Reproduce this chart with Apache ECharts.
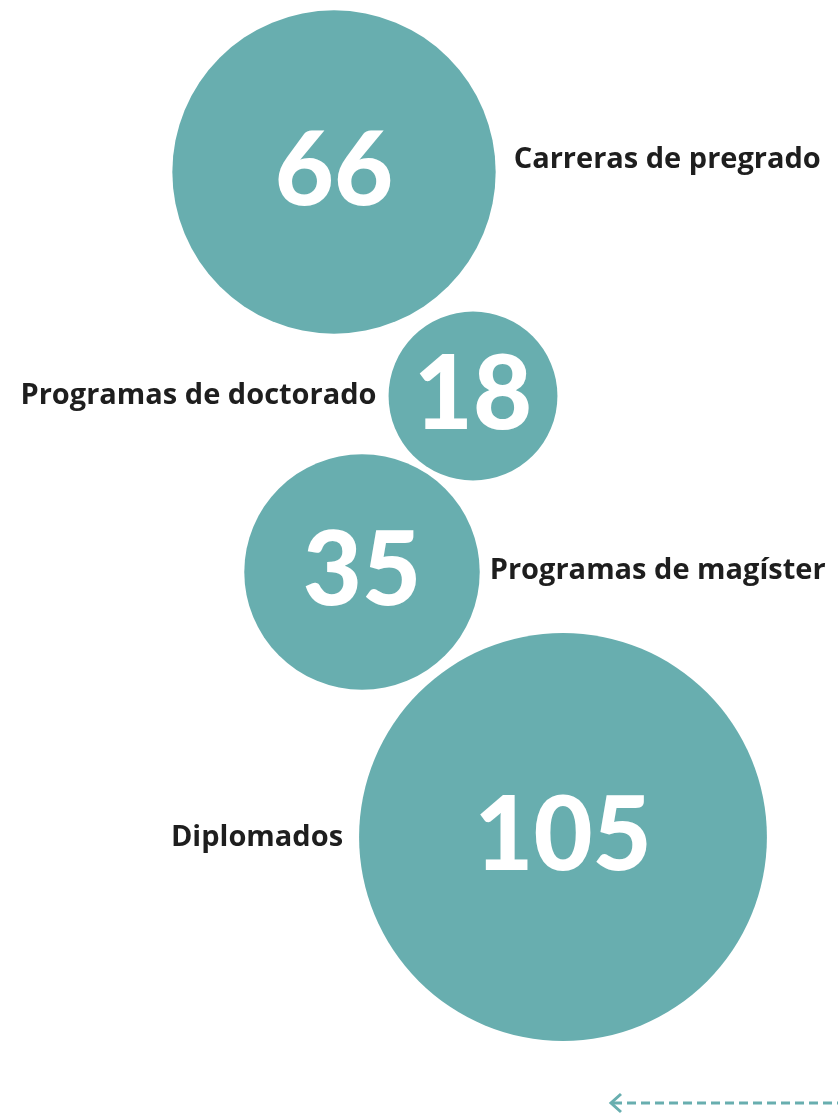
<!DOCTYPE html>
<html><head><meta charset="utf-8">
<script src="https://cdn.jsdelivr.net/npm/echarts@6/dist/echarts.min.js"></script>
<style>html,body{margin:0;padding:0;background:#fff}#c{width:838px;height:1114px}</style>
</head><body><div id="c"></div>
<script>
// Data
const categories = ['Carreras de pregrado', 'Programas de doctorado', 'Programas de magíster', 'Diplomados'];
const values = [66, 18, 35, 105];

// Layout (page coordinates of bubble centres and label side)
const centersX = [334, 473, 362, 563];
const centersY = [172, 396, 572, 837];
const labelSide = ['right', 'left', 'right', 'left'];
const labelDist = [18, 12, 10, 16];
const labelDy = [-12, 0, -1, 1];

const teal = '#68aeaf';
const sizeOf = v => 39.8 * Math.sqrt(v);

const chart = echarts.init(document.getElementById('c'), null, {renderer: 'canvas'});
chart.setOption({
  animation: false,
  grid: {left: 0, right: 0, top: 0, bottom: 0},
  xAxis: {type: 'value', min: 0, max: 838, show: false},
  yAxis: {type: 'value', min: 0, max: 1114, inverse: true, show: false},
  series: [
    {
      type: 'scatter',
      symbol: 'circle',
      symbolSize: (val, p) => sizeOf(values[p.dataIndex]),
      itemStyle: {color: teal, opacity: 1},
      label: {
        show: true, position: 'inside',
        formatter: p => String(values[p.dataIndex]),
        color: '#fff', fontFamily: 'Lato', fontWeight: 900, fontSize: 102
      },
      data: values.map((v, i) => [centersX[i], centersY[i]])
    },
    {
      type: 'scatter',
      symbol: 'circle',
      symbolSize: (val, p) => sizeOf(values[p.dataIndex]),
      itemStyle: {color: 'rgba(255,255,255,0)'},
      silent: true,
      z: 3,
      data: values.map((v, i) => ({
        value: [centersX[i], centersY[i]],
        label: {
          show: true,
          position: labelSide[i],
          distance: labelDist[i],
          offset: [0, labelDy[i]],
          formatter: categories[i],
          color: '#1e1e1e', opacity: 1, fontFamily: 'Open Sans', fontWeight: 700, fontSize: 29
        }
      }))
    }
  ],
  graphic: [
    {type: 'line', shape: {x1: 613, y1: 1103, x2: 838, y2: 1103},
     style: {stroke: teal, lineWidth: 3, lineDash: [9, 5]}},
    {type: 'polyline', shape: {points: [[621, 1094], [611, 1103], [621, 1112]]},
     style: {stroke: teal, lineWidth: 3, fill: null}}
  ]
});
</script></body></html>
